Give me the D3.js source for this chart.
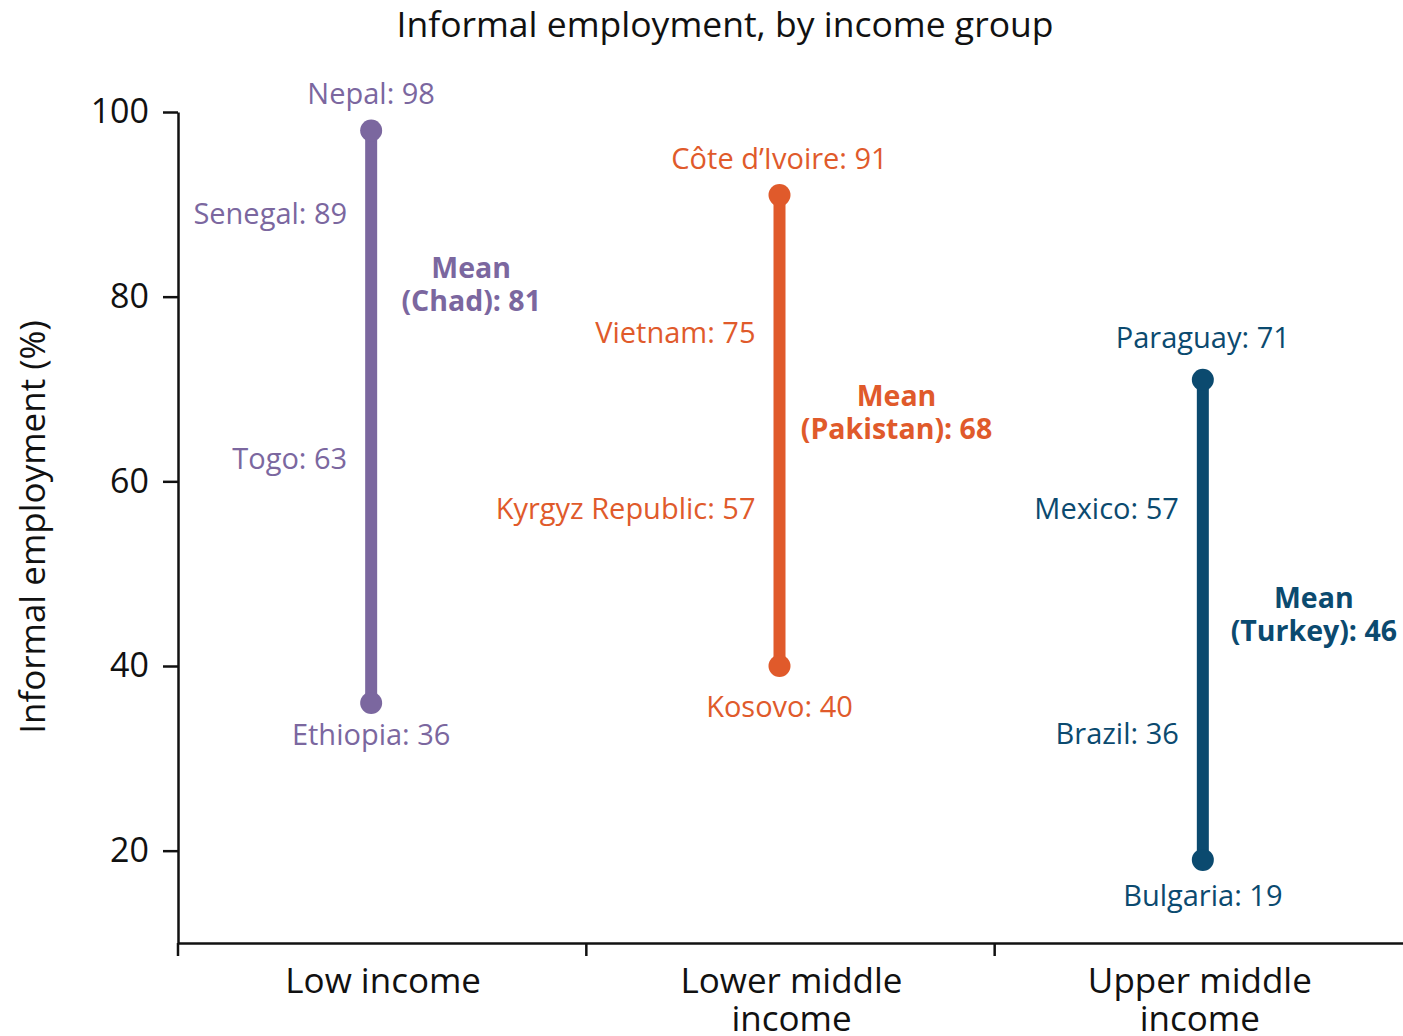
<!DOCTYPE html>
<html>
<head>
<meta charset="utf-8">
<script src="https://cdn.jsdelivr.net/npm/d3@7"></script>
<style>
  body { margin: 0; background: #fff; }
  svg { font-family: "Open Sans", "Noto Sans", sans-serif; }
  .axis text { fill: #111; }
  .axis path, .axis line { stroke: #111; stroke-width: 2.5; }
</style>
</head>
<body>
<svg width="1403" height="1036"></svg>
<script>
// chart values
const groups = ["Low income", "Lower middle income", "Upper middle income"];
const groupLines = [["Low income"], ["Lower middle", "income"], ["Upper middle", "income"]];
const colors = ["#7B679F", "#E05A2B", "#0B4A6F"];

const highCountry = ["Nepal", "Côte d’Ivoire", "Paraguay"];
const highValue = [98, 91, 71];
const lowCountry = ["Ethiopia", "Kosovo", "Bulgaria"];
const lowValue = [36, 40, 19];
const meanCountry = ["Chad", "Pakistan", "Turkey"];
const meanValue = [81, 68, 46];

const sideGroup = [0, 0, 1, 1, 2, 2];
const sideCountry = ["Senegal", "Togo", "Vietnam", "Kyrgyz Republic", "Mexico", "Brazil"];
const sideValue = [89, 63, 75, 57, 57, 36];

const yTicks = [20, 40, 60, 80, 100];

// layout tweaks
const lineShift = [-11, -11, 4];        // range line offset from band centre
const meanShift = [100, 117, 111];      // mean label offset from the line
const meanNudge = [-1, 7, 5];
const highNudge = [0, 0, -6];
const lowNudge = [0, 9, 4];
const sideNudge = [0, 5, -10, 0, 0, 31]; // small vertical label nudges (px)

const svg = d3.select("svg"),
    width = +svg.attr("width"),
    height = +svg.attr("height");

const margin = {left: 178, right: 0, top: 112, bottom: 93};

const x = d3.scaleBand()
    .domain(groups)
    .range([margin.left, width - margin.right]);

const y = d3.scaleLinear()
    .domain([10, 100])
    .range([height - margin.bottom, margin.top]);

const cx = i => x(groups[i]) + x.bandwidth() / 2 + lineShift[i];

// title
svg.append("text")
    .attr("x", 725)
    .attr("y", 37)
    .attr("text-anchor", "middle")
    .attr("font-size", 35.5)
    .attr("fill", "#111")
    .text("Informal employment, by income group");

// y axis
const yAxis = svg.append("g")
    .attr("class", "axis")
    .attr("transform", `translate(${margin.left},0)`)
    .call(d3.axisLeft(y).tickValues(yTicks).tickSize(15).tickSizeOuter(0).tickPadding(14));
yAxis.selectAll("text").attr("font-size", 34).attr("font-family", "Open Sans");

svg.append("text")
    .attr("transform", `translate(45,527) rotate(-90)`)
    .attr("text-anchor", "middle")
    .attr("font-size", 35)
    .attr("fill", "#111")
    .text("Informal employment (%)");

// x axis
const xAxis = svg.append("g")
    .attr("class", "axis")
    .attr("transform", `translate(0,${y(10)})`)
    .call(d3.axisBottom(x).tickSize(0).tickSizeOuter(0).tickFormat(""));
xAxis.selectAll(".sep")
    .data(groups)
    .enter().append("line")
    .attr("class", "sep")
    .attr("x1", d => x(d)).attr("x2", d => x(d))
    .attr("y1", 0).attr("y2", 13);

const xl = svg.append("g").selectAll("text")
    .data(groupLines)
    .enter().append("text")
    .attr("text-anchor", "middle")
    .attr("font-size", 35)
    .attr("fill", "#111")
    .attr("transform", (d, i) => `translate(${x(groups[i]) + x.bandwidth() / 2 + 1},${y(10) + 50})`);
xl.selectAll("tspan")
    .data(d => d)
    .enter().append("tspan")
    .attr("x", 0)
    .attr("dy", (d, j) => j === 0 ? 0 : 38)
    .text(d => d);

// range lines
const g = svg.append("g");
groups.forEach((grp, i) => {
    g.append("line")
        .attr("x1", cx(i)).attr("x2", cx(i))
        .attr("y1", y(highValue[i])).attr("y2", y(lowValue[i]))
        .attr("stroke", colors[i])
        .attr("stroke-width", 12);
    [highValue[i], lowValue[i]].forEach(v => {
        g.append("circle")
            .attr("cx", cx(i)).attr("cy", y(v))
            .attr("r", 11)
            .attr("fill", colors[i]);
    });

    g.append("text")
        .attr("x", cx(i)).attr("y", y(highValue[i]) - 26 + highNudge[i])
        .attr("text-anchor", "middle")
        .attr("font-size", 29)
        .attr("fill", colors[i])
        .text(`${highCountry[i]}: ${highValue[i]}`);

    g.append("text")
        .attr("x", cx(i)).attr("y", y(lowValue[i]) + 42 + lowNudge[i])
        .attr("text-anchor", "middle")
        .attr("font-size", 29)
        .attr("fill", colors[i])
        .text(`${lowCountry[i]}: ${lowValue[i]}`);

    const mx = cx(i) + meanShift[i];
    const m = g.append("text")
        .attr("x", mx).attr("y", y(meanValue[i]) - 8 + meanNudge[i])
        .attr("text-anchor", "middle")
        .attr("font-size", 28.5)
        .attr("font-weight", "bold")
        .attr("fill", colors[i]);
    m.append("tspan").attr("x", mx).text("Mean");
    m.append("tspan").attr("x", mx).attr("dy", 33)
        .text(`(${meanCountry[i]}): ${meanValue[i]}`);
});

// side labels
g.selectAll(".side")
    .data(sideCountry)
    .enter().append("text")
    .attr("class", "side")
    .attr("x", (d, k) => cx(sideGroup[k]) - 24)
    .attr("y", (d, k) => y(sideValue[k]) + 10 + sideNudge[k])
    .attr("text-anchor", "end")
    .attr("font-size", 29)
    .attr("fill", (d, k) => colors[sideGroup[k]])
    .text((d, k) => `${d}: ${sideValue[k]}`);
</script>
</body>
</html>
